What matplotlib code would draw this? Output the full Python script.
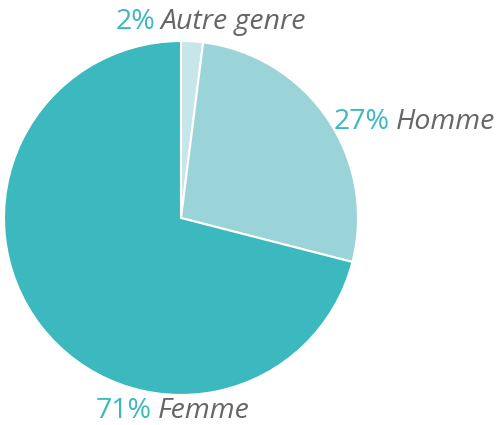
import matplotlib
matplotlib.use('Agg')
import matplotlib.pyplot as plt

labels = ['Autre genre', 'Homme', 'Femme']
values = [2, 27, 71]
colors = ['#c6e6e9', '#9bd4d8', '#3bb9bf']

W, H = 497, 425
fig = plt.figure(figsize=(W / 100, H / 100), dpi=100)

# pie centre (181, 218) px, radius 177 px
cx, cy, r = 181, 218, 177
ax = fig.add_axes([(cx - r) / W, (H - cy - r) / H, 2 * r / W, 2 * r / H])
ax.pie(values, colors=colors, startangle=90, counterclock=False,
       wedgeprops=dict(edgecolor='white', linewidth=1.5))
ax.set_xlim(-1, 1); ax.set_ylim(-1, 1)
ax.set_aspect('equal')
ax.axis('off')

# label anchors: (x where % ends, y centre) in px from top-left
anchors = [(155, 22), (390, 122), (152, 411)]
fs = 20.5
for (x, y), lab, v in zip(anchors, labels, values):
    fig.text(x / W, 1 - y / H, f'{v}%', ha='right', va='center',
             fontsize=fs, color='#3bb9bf', family='Open Sans')
    fig.text((x + 6) / W, 1 - y / H, lab, ha='left', va='center',
             fontsize=fs, color='#666666', style='italic', family='Open Sans')

fig.savefig('out.png', dpi=100)
